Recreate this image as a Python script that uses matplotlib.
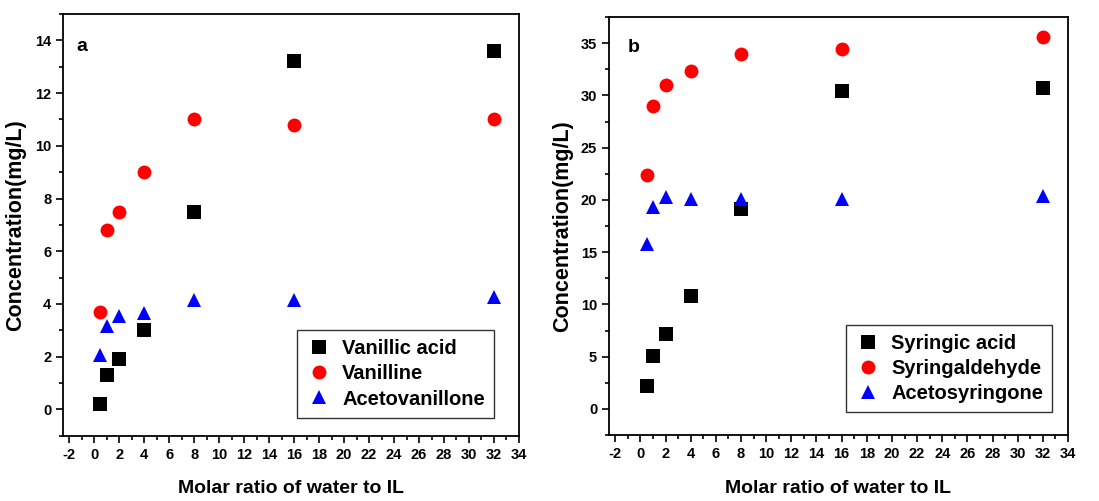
import numpy as np
import matplotlib.pyplot as plt
from matplotlib.ticker import MultipleLocator

plt.rcParams['font.family'] = ['Liberation Sans', 'DejaVu Sans']
plt.rcParams['font.weight'] = 'bold'
plt.rcParams['axes.unicode_minus'] = False

# molar ratio of water to IL
ratio = [0.5, 1, 2, 4, 8, 16, 32]

# panel a
vanillic_acid = [0.2, 1.3, 1.9, 3.0, 7.5, 13.2, 13.6]
vanilline = [3.7, 6.8, 7.5, 9.0, 11.0, 10.8, 11.0]
acetovanillone = [2.05, 3.15, 3.55, 3.65, 4.15, 4.15, 4.25]

# panel b
syringic_acid = [2.2, 5.1, 7.2, 10.8, 19.1, 30.4, 30.7]
syringaldehyde = [22.4, 29.0, 31.0, 32.3, 34.0, 34.4, 35.6]
acetosyringone = [15.8, 19.3, 20.3, 20.1, 20.1, 20.1, 20.4]

fig = plt.figure(figsize=(10.99, 5.01), dpi=100)
ax_a = fig.add_axes([0.0573, 0.1303, 0.4149, 0.8417])
ax_b = fig.add_axes([0.5541, 0.1317, 0.4177, 0.8343])


def draw(ax, series, labels, letter, ylim, ymaj, ymin, legend_pos, letter_pos,
         ylab_x, xlab_y):
    styles = [('s', 'black'), ('o', 'red'), ('^', 'blue')]
    for ys, lab, (m, c) in zip(series, labels, styles):
        ax.plot(ratio, ys, linestyle='none', marker=m, color=c, markersize=10,
                markeredgewidth=0, label=lab)
    ax.set_xlim(-2.5, 34)
    ax.set_ylim(*ylim)
    ax.xaxis.set_major_locator(MultipleLocator(2))
    ax.xaxis.set_minor_locator(MultipleLocator(1))
    ax.yaxis.set_major_locator(MultipleLocator(ymaj))
    ax.yaxis.set_minor_locator(MultipleLocator(ymin))
    ax.tick_params(which='both', direction='out', top=False, right=False,
                   labelsize=10.5)
    ax.tick_params(which='major', length=5, width=1.2)
    ax.tick_params(which='minor', length=3, width=1.2)
    for sp in ax.spines.values():
        sp.set_linewidth(1.3)
    ax.set_xlabel('Molar ratio of water to IL', fontsize=14, fontweight='bold')
    ax.xaxis.set_label_coords(0.5, xlab_y)
    ax.set_ylabel('Concentration(mg/L)', fontsize=15.5, fontweight='bold')
    ax.yaxis.set_label_coords(ylab_x, 0.5)
    ax.text(letter_pos[0], letter_pos[1], letter, transform=ax.transAxes,
            fontsize=14, fontweight='bold', va='center')
    leg = ax.legend(loc='lower left', bbox_to_anchor=legend_pos, fontsize=14.5,
                    frameon=True, fancybox=False, edgecolor='black',
                    handletextpad=0.5, borderpad=0.45, labelspacing=0.3,
                    handlelength=1.3, borderaxespad=0)
    leg.get_frame().set_linewidth(1.0)
    for t in leg.get_texts():
        t.set_fontweight('bold')


draw(ax_a, [vanillic_acid, vanilline, acetovanillone],
     ['Vanillic acid', 'Vanilline', 'Acetovanillone'], 'a',
     (-1, 15), 2, 1, (0.513, 0.043), (0.03, 0.922), -0.08, -0.105)
draw(ax_b, [syringic_acid, syringaldehyde, acetosyringone],
     ['Syringic acid', 'Syringaldehyde', 'Acetosyringone'], 'b',
     (-2.5, 37.5), 5, 2.5, (0.516, 0.054), (0.041, 0.928), -0.079, -0.108)

fig.savefig('out.png', dpi=100)
